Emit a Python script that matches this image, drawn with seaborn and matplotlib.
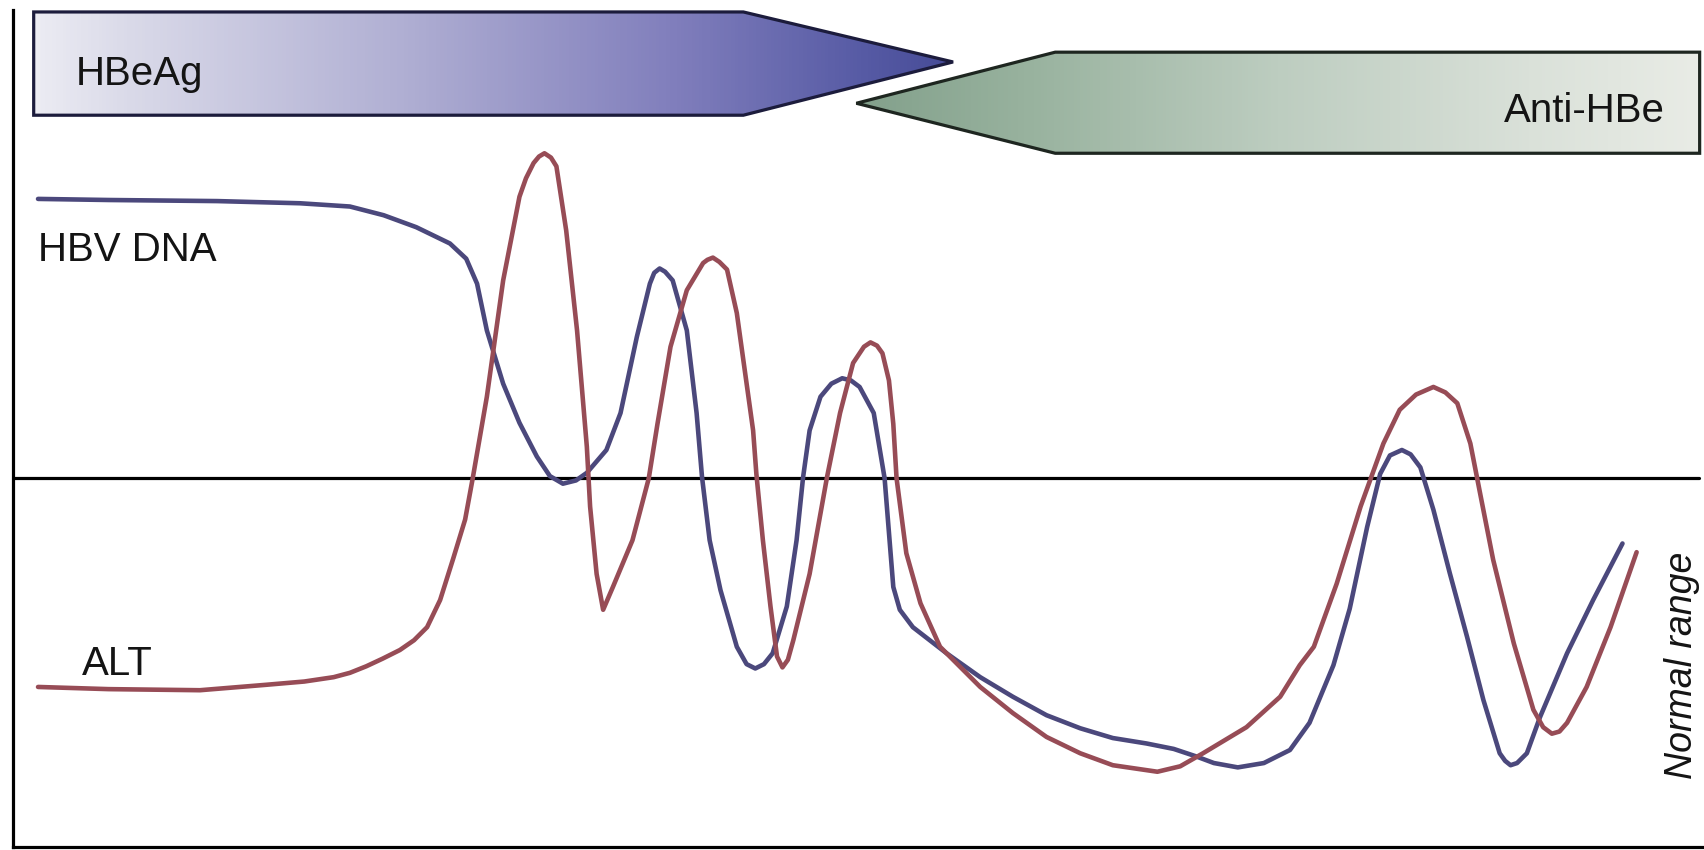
import numpy as np
import pandas as pd
import seaborn as sns
import matplotlib.pyplot as plt
from matplotlib.colors import LinearSegmentedColormap
from matplotlib.patches import Polygon

# schematic values (time in arbitrary units, level above baseline)
hbv_t = [35, 100, 200, 276, 322, 353, 383, 414, 429, 439, 448, 463, 478, 494, 506,
         518, 530, 540, 558, 571, 586, 598, 602, 607, 612, 619, 632, 641, 646, 653, 663,
         678, 687, 695, 703, 711, 724, 733, 739, 745, 755, 765, 775, 783, 791, 804, 814,
         818, 822, 828, 840, 871, 902, 932, 963, 994, 1024, 1055, 1080, 1101, 1117, 1139,
         1163, 1187, 1205, 1227, 1242, 1258, 1270, 1279, 1290, 1298, 1307, 1319, 1334,
         1350, 1365, 1380, 1385, 1390, 1396, 1405, 1417, 1442, 1466, 1493]
hbv_level = [596, 595, 594, 592, 589, 581, 570, 555, 541, 518, 475, 426, 390, 359, 341,
             334, 337, 344, 365, 399, 469, 518, 528, 532, 529, 521, 475, 399, 340, 282, 236,
             184, 168, 164, 168, 178, 221, 282, 340, 383, 414, 426, 431, 429, 423, 399, 339,
             289, 239, 218, 202, 178, 156, 138, 121, 109, 100, 95, 90, 83, 77, 73,
             77, 89, 114, 167, 219, 294, 343, 360, 365, 361, 349, 310, 252,
             193, 135, 86, 79, 75, 77, 86, 119, 178, 227, 279]

alt_t = [35, 100, 184, 245, 280, 307, 322, 337, 352, 368, 381, 393, 405, 417, 428,
         435, 448, 463, 478, 484, 491, 496, 501, 507, 512, 521, 531, 540, 543, 549,
         555, 564, 582, 597, 605, 617, 632, 647, 651, 656, 662, 669, 678, 693, 696,
         702, 709, 715, 720, 725, 730, 745, 761, 773, 785, 795, 801, 807, 812, 818,
         822, 825, 834, 847, 865, 902, 932, 963, 994, 1024, 1065, 1086, 1107, 1147,
         1178, 1196, 1209, 1230, 1252, 1273, 1288, 1303, 1319, 1330, 1341, 1353, 1362,
         1374, 1393, 1411, 1420, 1428, 1435, 1442, 1460, 1482, 1506]
alt_level = [147, 145, 144, 149, 152, 156, 160, 166, 173, 181, 190, 202, 227, 265, 301,
             339, 414, 521, 598, 615, 629, 635, 638, 634, 626, 567, 475, 368, 313, 251,
             218, 239, 282, 339, 389, 460, 512, 537, 540, 542, 538, 531, 491, 383, 343,
             282, 221, 175, 165, 172, 190, 251, 340, 399, 445, 460, 464, 461, 454, 429,
             389, 339, 270, 224, 184, 147, 123, 101, 86, 75, 69, 74, 86, 110,
             138, 167, 184, 242, 313, 371, 402, 416, 423, 418, 408, 371, 325,
             264, 187, 126, 110, 104, 106, 114, 147, 202, 271]

normal_upper = 339

line_colors = {'HBV DNA': '#4b487c', 'ALT': '#974c56'}

df = pd.DataFrame({
    't': hbv_t + alt_t,
    'level': hbv_level + alt_level,
    'marker': ['HBV DNA'] * len(hbv_t) + ['ALT'] * len(alt_t),
})

sns.set_theme(style='white')
plt.rcParams['font.family'] = ['Liberation Sans', 'DejaVu Sans']

fig = plt.figure(figsize=(17.04, 8.5), dpi=100)
ax = fig.add_axes([12 / 1568, 3 / 782, 1 - 12 / 1568, 770 / 782])

sns.lineplot(data=df, x='t', y='level', hue='marker', palette=line_colors,
             estimator=None, sort=False, lw=3.3, legend=False, ax=ax, zorder=4)
for ln in ax.lines:
    ln.set_solid_joinstyle('round')
    ln.set_solid_capstyle('round')

# normal range upper limit
ax.axhline(normal_upper, xmin=0, xmax=(1563 - 12) / (1568 - 12), color='black', lw=2.3, zorder=3)


def grad_arrow(pts, stops, edge):
    poly = Polygon(pts, closed=True, facecolor='none', edgecolor=edge, lw=2.3, zorder=3)
    ax.add_patch(poly)
    xs = [p[0] for p in pts]
    ys = [p[1] for p in pts]
    cmap = LinearSegmentedColormap.from_list('g', stops)
    grad = np.linspace(0, 1, 256).reshape(1, -1)
    im = ax.imshow(grad, cmap=cmap, extent=[min(xs), max(xs), min(ys), max(ys)],
                   aspect='auto', origin='lower', zorder=2)
    im.set_clip_path(poly)


# HBeAg (pointing right) and Anti-HBe (pointing left)
grad_arrow([(31, 768), (684, 768), (877, 722), (684, 673), (31, 673)],
           [(0, '#ececf3'), (0.1, '#dadae9'), (0.4, '#b0afd3'), (0.7, '#807ebc'),
            (0.9, '#575ba5'), (1, '#464b97')], '#1c1c3c')
grad_arrow([(788, 684), (971, 731), (1564, 731), (1564, 638), (971, 638)],
           [(0, '#82a08b'), (0.2, '#98b29e'), (0.5, '#bdcdc0'), (0.8, '#dae1d9'),
            (1, '#e9ece6')], '#1e2620')

txt = dict(color='#141414', zorder=5)
ax.text(70, 701, 'HBeAg', fontsize=29, va='baseline', ha='left', **txt)
ax.text(1532, 667, 'Anti-HBe', fontsize=29, va='baseline', ha='right', **txt)
ax.text(35, 539, 'HBV DNA', fontsize=29, va='baseline', ha='left', **txt)
ax.text(75, 158, 'ALT', fontsize=29, va='baseline', ha='left', **txt)
ax.text(1548, 167, 'Normal range', fontsize=27, style='italic',
        rotation=90, va='center', ha='center', **txt)

ax.set_xlim(12, 1568)
ax.set_ylim(0, 770)
ax.set_xticks([])
ax.set_yticks([])
ax.set_xlabel('')
ax.set_ylabel('')
for side in ['top', 'right']:
    ax.spines[side].set_visible(False)
for side in ['left', 'bottom']:
    ax.spines[side].set_color('black')
    ax.spines[side].set_linewidth(2.3)

fig.savefig('out.png', dpi=100)
